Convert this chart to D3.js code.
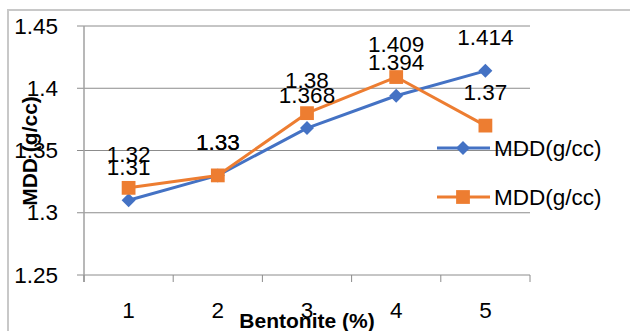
<!DOCTYPE html>
<html>
<head>
<meta charset="utf-8">
<script src="https://cdn.jsdelivr.net/npm/d3@7"></script>
<style>
  html, body { margin: 0; padding: 0; background: #fff; }
  svg { display: block; }
  text { font-family: "Liberation Sans", Arial, sans-serif; }
</style>
</head>
<body>
<div id="chart"></div>
<script>
// Bentonite content (%) on the x axis
const categories = [1, 2, 3, 4, 5];
// Maximum dry density, two test series
const seriesA = [1.31, 1.33, 1.368, 1.394, 1.414];
const seriesB = [1.32, 1.33, 1.38, 1.409, 1.37];
const seriesNames = ["MDD(g/cc)", "MDD(g/cc)"];
const yTicks = [1.25, 1.3, 1.35, 1.4, 1.45];
const yTickLabels = ["1.25", "1.3", "1.35", "1.4", "1.45"];

const W = 630, H = 331;
const blue = "#4472C4", orange = "#ED7D31";
const fontSize = 22.5;

const svg = d3.select("#chart").append("svg")
  .attr("width", W).attr("height", H);

// outer frame (top and left edges visible)
svg.append("path")
  .attr("d", `M8,${H} L8,10 L${W},10`)
  .attr("fill", "none").attr("stroke", "#c8c8c8").attr("stroke-width", 2);

const x = d3.scaleBand().domain(categories).range([84, 530]);
const y = d3.scaleLinear().domain([1.25, 1.45]).range([275, 26]);

// horizontal gridlines with left tick stubs
svg.append("g").selectAll("line").data(yTicks).join("line")
  .attr("x1", 77).attr("x2", 530)
  .attr("y1", d => y(d)).attr("y2", d => y(d))
  .attr("stroke", "#8c8c8c").attr("stroke-width", 1);

// vertical axis line
svg.append("line")
  .attr("x1", 84).attr("x2", 84)
  .attr("y1", y(1.45)).attr("y2", y(1.25) + 7)
  .attr("stroke", "#a0a0a0").attr("stroke-width", 1.5);

// category boundary ticks below the x axis
const bounds = categories.map(c => x(c)).concat([x.range()[1]]);
svg.append("g").selectAll("line").data(bounds).join("line")
  .attr("x1", d => d).attr("x2", d => d)
  .attr("y1", y(1.25)).attr("y2", y(1.25) + 7)
  .attr("stroke", "#8c8c8c").attr("stroke-width", 1);

// y tick labels
svg.append("g").selectAll("text").data(yTicks).join("text")
  .attr("x", 58).attr("y", d => y(d))
  .attr("text-anchor", "end").attr("dominant-baseline", "central")
  .attr("font-size", fontSize).attr("fill", "#000")
  .text((d, i) => yTickLabels[i]);

// x tick labels
const cx = d => x(d) + x.bandwidth() / 2;
svg.append("g").selectAll("text").data(categories).join("text")
  .attr("x", d => cx(d)).attr("y", 310)
  .attr("text-anchor", "middle").attr("dominant-baseline", "central")
  .attr("font-size", fontSize).attr("fill", "#000")
  .text(d => d);

// axis titles
svg.append("text")
  .attr("x", 307).attr("y", 320)
  .attr("text-anchor", "middle").attr("dominant-baseline", "central")
  .attr("font-size", 21).attr("font-weight", "bold")
  .text("Bentonite (%)");

svg.append("text")
  .attr("transform", "translate(29,151) rotate(-90)")
  .attr("text-anchor", "middle").attr("dominant-baseline", "central")
  .attr("font-size", 21).attr("font-weight", "bold")
  .text("MDD (g/cc)");

const line = d3.line().x((d, i) => cx(categories[i])).y(d => y(d));

// marker shapes: a square turned 45° for the diamond, a plain square
const markers = {
  diamond: { path: d3.symbol().type(d3.symbolSquare).size(98)(), rot: 45 },
  square: { path: d3.symbol().type(d3.symbolSquare).size(190)(), rot: 0 }
};

function drawSeries(values, color, marker) {
  const g = svg.append("g");
  g.append("path").datum(values)
    .attr("d", line).attr("fill", "none")
    .attr("stroke", color).attr("stroke-width", 3).attr("stroke-linejoin", "round");
  g.selectAll("path.m").data(values).join("path").attr("class", "m")
    .attr("d", marker.path)
    .attr("transform", (d, i) => `translate(${cx(categories[i])},${y(d)}) rotate(${marker.rot})`)
    .attr("fill", color);
}

drawSeries(seriesA, blue, markers.diamond);
drawSeries(seriesB, orange, markers.square);

// value labels above each point
function drawLabels(values) {
  svg.append("g").selectAll("text").data(values).join("text")
    .attr("x", (d, i) => cx(categories[i]))
    .attr("y", d => y(d) - 33)
    .attr("text-anchor", "middle").attr("dominant-baseline", "central")
    .attr("font-size", fontSize).attr("fill", "#000")
    .text(d => d);
}
drawLabels(seriesA);
drawLabels(seriesB);

// legend
const legend = [
  { name: seriesNames[0], color: blue, marker: markers.diamond, yy: 148 },
  { name: seriesNames[1], color: orange, marker: markers.square, yy: 197 }
];
const lg = svg.append("g").selectAll("g").data(legend).join("g");
lg.append("line")
  .attr("x1", 437).attr("x2", 490)
  .attr("y1", d => d.yy).attr("y2", d => d.yy)
  .attr("stroke", d => d.color).attr("stroke-width", 3);
lg.append("path")
  .attr("d", d => d.marker.path)
  .attr("transform", d => `translate(463,${d.yy}) rotate(${d.marker.rot})`)
  .attr("fill", d => d.color);
lg.append("text")
  .attr("x", 494).attr("y", d => d.yy)
  .attr("dominant-baseline", "central")
  .attr("font-size", fontSize).attr("fill", "#000")
  .text(d => d.name);
</script>
</body>
</html>
